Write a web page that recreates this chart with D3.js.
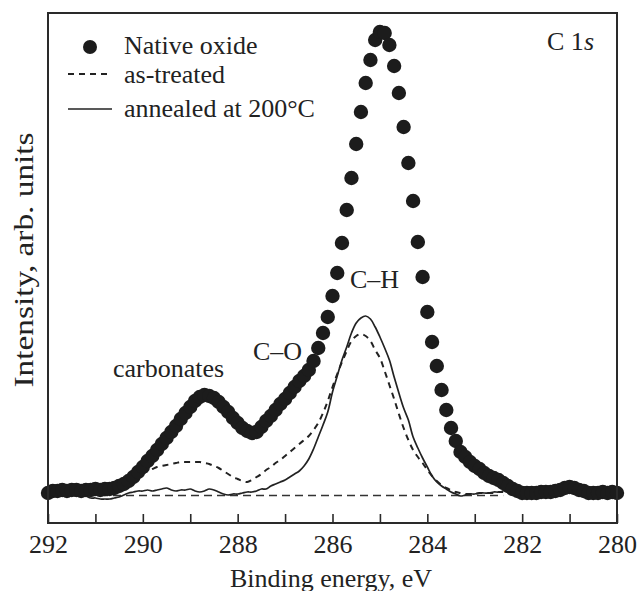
<!DOCTYPE html>
<html>
<head>
<meta charset="utf-8">
<script src="https://cdn.jsdelivr.net/npm/d3@7"></script>
<style>
  html, body { margin: 0; padding: 0; background: #fff; }
  svg text { font-family: "Liberation Serif", "Times New Roman", serif; fill: #222; }
</style>
</head>
<body>
<svg id="chart" width="639" height="591"></svg>
<script>
// binding energy grid, 0.1 eV step from 292 eV down to 280 eV
var eStart = 292.0, eStep = 0.1;

// native oxide (dots), 121 points 292.0 -> 280.0
var nativeOxide = [
  0.5, 0.9, 0.9, 1.1, 0.9, 1.1, 1.1, 0.9, 1.1, 1.1,
  1.3, 1.1, 1.3, 1.3, 1.5, 1.9, 2.3, 2.9, 3.7, 4.7,
  5.7, 6.9, 7.9, 9.1, 10.3, 11.5, 12.7, 13.9, 15.3, 16.5,
  17.7, 18.9, 19.7, 20.1, 19.9, 19.5, 18.7, 17.7, 16.7, 15.5,
  14.5, 13.5, 12.9, 12.5, 12.7, 13.7, 14.9, 15.9, 17.1, 18.3,
  19.3, 20.5, 21.7, 22.9, 23.9, 25.1, 26.9, 29.5, 32.5, 35.7,
  39.9, 44.5, 50.5, 57.1, 63.5, 70.3, 76.7, 82.5, 87.1, 91.1,
  92.7, 92.5, 90.1, 85.9, 80.5, 73.7, 66.5, 58.9, 50.7, 43.7,
  36.7, 30.7, 25.9, 21.1, 17.1, 13.5, 10.9, 8.7, 7.7, 6.7,
  5.9, 5.3, 4.5, 3.9, 3.5, 3.1, 2.5, 1.9, 1.3, 0.9,
  0.5, 0.5, 0.5, 0.5, 0.7, 0.7, 0.7, 0.9, 1.1, 1.5,
  1.7, 1.5, 1.1, 0.9, 0.5, 0.5, 0.5, 0.7, 0.5, 0.7,
  0.5
];

// as-treated (dashed), 97 points 292.0 -> 282.4
var asTreated = [
  1.1, 1.1, 0.9, 0.9, 0.9, 0.7, 0.7, 0.7, 0.7, 0.7,
  0.7, 0.7, 0.9, 0.9, 1.1, 1.5, 1.9, 2.5, 3.1, 3.7,
  4.3, 4.9, 5.3, 5.7, 5.9, 6.1, 6.3, 6.5, 6.7, 6.7,
  6.7, 6.7, 6.7, 6.5, 6.3, 5.9, 5.5, 4.9, 4.3, 3.7,
  3.3, 2.9, 2.7, 3.1, 3.7, 4.3, 5.1, 5.7, 6.5, 7.1,
  7.9, 8.7, 9.5, 10.3, 11.1, 11.9, 13.1, 14.5, 16.5, 18.9,
  21.7, 24.3, 26.7, 28.9, 30.9, 31.9, 32.3, 31.9, 30.9, 29.1,
  27.5, 24.9, 22.1, 19.3, 16.3, 13.5, 11.1, 9.1, 7.7, 6.5,
  5.1, 3.9, 2.9, 2.1, 1.5, 1.1, 0.7, 0.5, 0.3, 0.3,
  0.3, 0.5, 0.5, 0.5, 0.5, 0.7, 0.7
];

// annealed at 200 C (solid), 97 points 292.0 -> 282.4
var annealed = [
  1.7, 1.5, 1.3, 1.1, 0.9, 0.5, 0.3, 0.1, -0.1, -0.5,
  -0.5, -0.7, -0.7, -0.7, -0.5, -0.3, 0.1, 0.5, 0.7, 0.9,
  0.9, 1.1, 0.9, 1.1, 1.3, 1.5, 1.1, 0.9, 1.1, 1.1,
  1.3, 0.9, 0.7, 0.9, 1.3, 1.1, 0.7, 0.3, 0.1, 0.3,
  0.3, 0.5, 0.7, 0.7, 0.9, 1.3, 1.3, 1.9, 2.3, 2.7,
  3.1, 3.7, 4.3, 4.9, 5.9, 7.3, 9.3, 11.7, 14.1, 16.7,
  20.7, 23.9, 27.1, 29.7, 32.5, 34.5, 35.5, 35.9, 35.3, 33.7,
  31.7, 29.5, 27.1, 23.7, 20.5, 17.5, 15.1, 11.7, 9.5, 7.5,
  5.7, 3.9, 2.7, 1.9, 1.3, 0.7, 0.3, -0.1, 0.1, 0.3,
  0.3, 0.5, 0.5, 0.5, 0.7, 0.7, 0.9
];

// background line
var baseE = [292.0, 282.4];
var baseI = [0, 0];

var xTicks = [292, 291, 290, 289, 288, 287, 286, 285, 284, 283, 282, 281, 280];

var legendItems = ["Native oxide", "as-treated", "annealed at 200°C"];

function eAt(i) { return +(eStart - i * eStep).toFixed(1); }

var svg = d3.select("#chart");

var margin = {top: 13, right: 22, bottom: 68, left: 48},
    width = 639 - margin.left - margin.right,
    height = 591 - margin.top - margin.bottom;

var x = d3.scaleLinear().domain([292, 280]).range([margin.left, margin.left + width]);
var y = d3.scaleLinear().domain([-5.5, 96.5]).range([margin.top + height, margin.top]);

var line = d3.line()
    .x(function (d, i) { return x(eAt(i)); })
    .y(function (d) { return y(d); })
    .curve(d3.curveCatmullRom);

// baseline
svg.append("line")
    .attr("x1", x(baseE[0])).attr("x2", x(baseE[1]))
    .attr("y1", y(baseI[0])).attr("y2", y(baseI[1]))
    .attr("stroke", "#333")
    .attr("stroke-width", 1.3)
    .attr("stroke-dasharray", "8,5");

svg.append("path")
    .datum(asTreated)
    .attr("d", line)
    .attr("fill", "none")
    .attr("stroke", "#222")
    .attr("stroke-width", 2)
    .attr("stroke-dasharray", "6,5");

svg.append("path")
    .datum(annealed)
    .attr("d", line)
    .attr("fill", "none")
    .attr("stroke", "#222")
    .attr("stroke-width", 1.7);

svg.append("g")
    .selectAll("circle")
    .data(nativeOxide)
    .enter().append("circle")
    .attr("cx", function (d, i) { return x(eAt(i)); })
    .attr("cy", function (d) { return y(d); })
    .attr("r", 7.2)
    .attr("fill", "#1c1c1c");

// frame
svg.append("rect")
    .attr("x", margin.left).attr("y", margin.top)
    .attr("width", width).attr("height", height)
    .attr("fill", "none")
    .attr("stroke", "#2a2a2a")
    .attr("stroke-width", 2);

// bottom axis, ticks pointing in
var xAxis = d3.axisBottom(x)
    .tickValues(xTicks)
    .tickSize(-9)
    .tickPadding(12)
    .tickFormat(function (d) { return d % 2 === 0 ? d : ""; });

var gx = svg.append("g")
    .attr("transform", "translate(0," + (margin.top + height) + ")")
    .call(xAxis);
gx.select(".domain").remove();
gx.selectAll("line").attr("stroke", "#2a2a2a").attr("stroke-width", 1.6);
gx.selectAll("text")
    .style("font-family", "'Liberation Serif', 'Times New Roman', serif")
    .style("font-size", "26px")
    .attr("fill", "#222");

// axis titles
svg.append("text")
    .attr("x", 331).attr("y", 587)
    .attr("text-anchor", "middle")
    .style("font-size", "26px")
    .text("Binding energy, eV");

svg.append("text")
    .attr("transform", "translate(33,260) rotate(-90)")
    .attr("text-anchor", "middle")
    .attr("textLength", 255)
    .attr("lengthAdjust", "spacingAndGlyphs")
    .style("font-size", "27px")
    .text("Intensity, arb. units");

// legend
var lg = svg.append("g");
lg.append("circle").attr("cx", 90).attr("cy", 47).attr("r", 7).attr("fill", "#1c1c1c");
lg.append("line").attr("x1", 68).attr("x2", 110).attr("y1", 74).attr("y2", 74)
    .attr("stroke", "#222").attr("stroke-width", 1.8).attr("stroke-dasharray", "6,5");
lg.append("line").attr("x1", 68).attr("x2", 112).attr("y1", 109).attr("y2", 109)
    .attr("stroke", "#222").attr("stroke-width", 1.7);
lg.selectAll("text.leg")
    .data(legendItems)
    .enter().append("text")
    .attr("class", "leg")
    .attr("x", 124)
    .attr("y", function (d, i) { return [54, 83, 117][i]; })
    .style("font-size", "26px")
    .text(function (d) { return d; });

// annotations
var c1s = svg.append("text")
    .attr("x", 594).attr("y", 50)
    .attr("text-anchor", "end")
    .style("font-size", "26px");
c1s.append("tspan").text("C 1");
c1s.append("tspan").style("font-style", "italic").text("s");

svg.append("text").attr("x", 113).attr("y", 377).style("font-size", "26px").text("carbonates");
svg.append("text").attr("x", 253).attr("y", 360).style("font-size", "26px").text("C\u2013O");
svg.append("text").attr("x", 350).attr("y", 288).style("font-size", "26px").text("C\u2013H");
</script>
</body>
</html>
